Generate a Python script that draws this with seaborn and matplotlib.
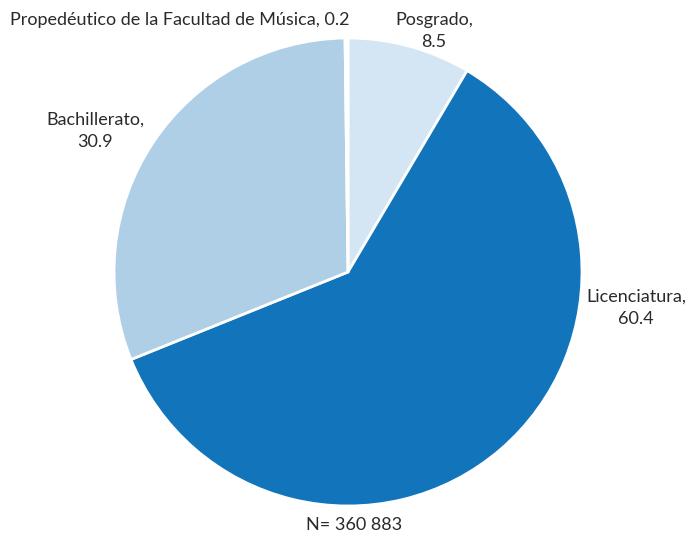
import matplotlib
matplotlib.use("Agg")
import matplotlib.pyplot as plt
import seaborn as sns

# data
categories = ["Posgrado", "Licenciatura", "Bachillerato", "Propedéutico de la Facultad de Música"]
values = [8.5, 60.4, 30.9, 0.2]
colors = ["#d4e5f3", "#1274bb", "#afcfe6", "#ffffff"]
total_n = "N= 360 883"

sns.set_theme(style="white")
plt.rcParams['font.family'] = ['Lato', 'DejaVu Sans']

fig = plt.figure(figsize=(6.9, 5.38), dpi=100)
ax = fig.add_axes([0, 0, 1, 1])

cx, cy, r = 348, 272, 234  # pixel centre / radius

ax.pie(values, colors=colors, startangle=90, counterclock=False,
       radius=1, center=(0, 0),
       wedgeprops=dict(edgecolor="white", linewidth=2))

ax.set_xlim(-cx / r, (690 - cx) / r)
ax.set_ylim(-(538 - cy) / r, cy / r)
ax.set_aspect("auto")
ax.axis("off")


def px(x, y):
    return (x - cx) / r, (cy - y) / r


label_pos = [(434, 31), (636, 308), (95, 131), (180, 20)]
for cat, val, (lx, ly) in zip(categories, values, label_pos):
    if val < 1:
        txt = f"{cat}, {val}"
    else:
        txt = f"{cat},\n{val}"
    ax.text(*px(lx, ly), txt, ha="center", va="center", fontsize=13,
            color="#2a2a2a", linespacing=1.45)

ax.text(*px(354, 525), total_n, ha="center", va="center", fontsize=13,
        color="#2a2a2a")

fig.savefig("out.png", dpi=100)
